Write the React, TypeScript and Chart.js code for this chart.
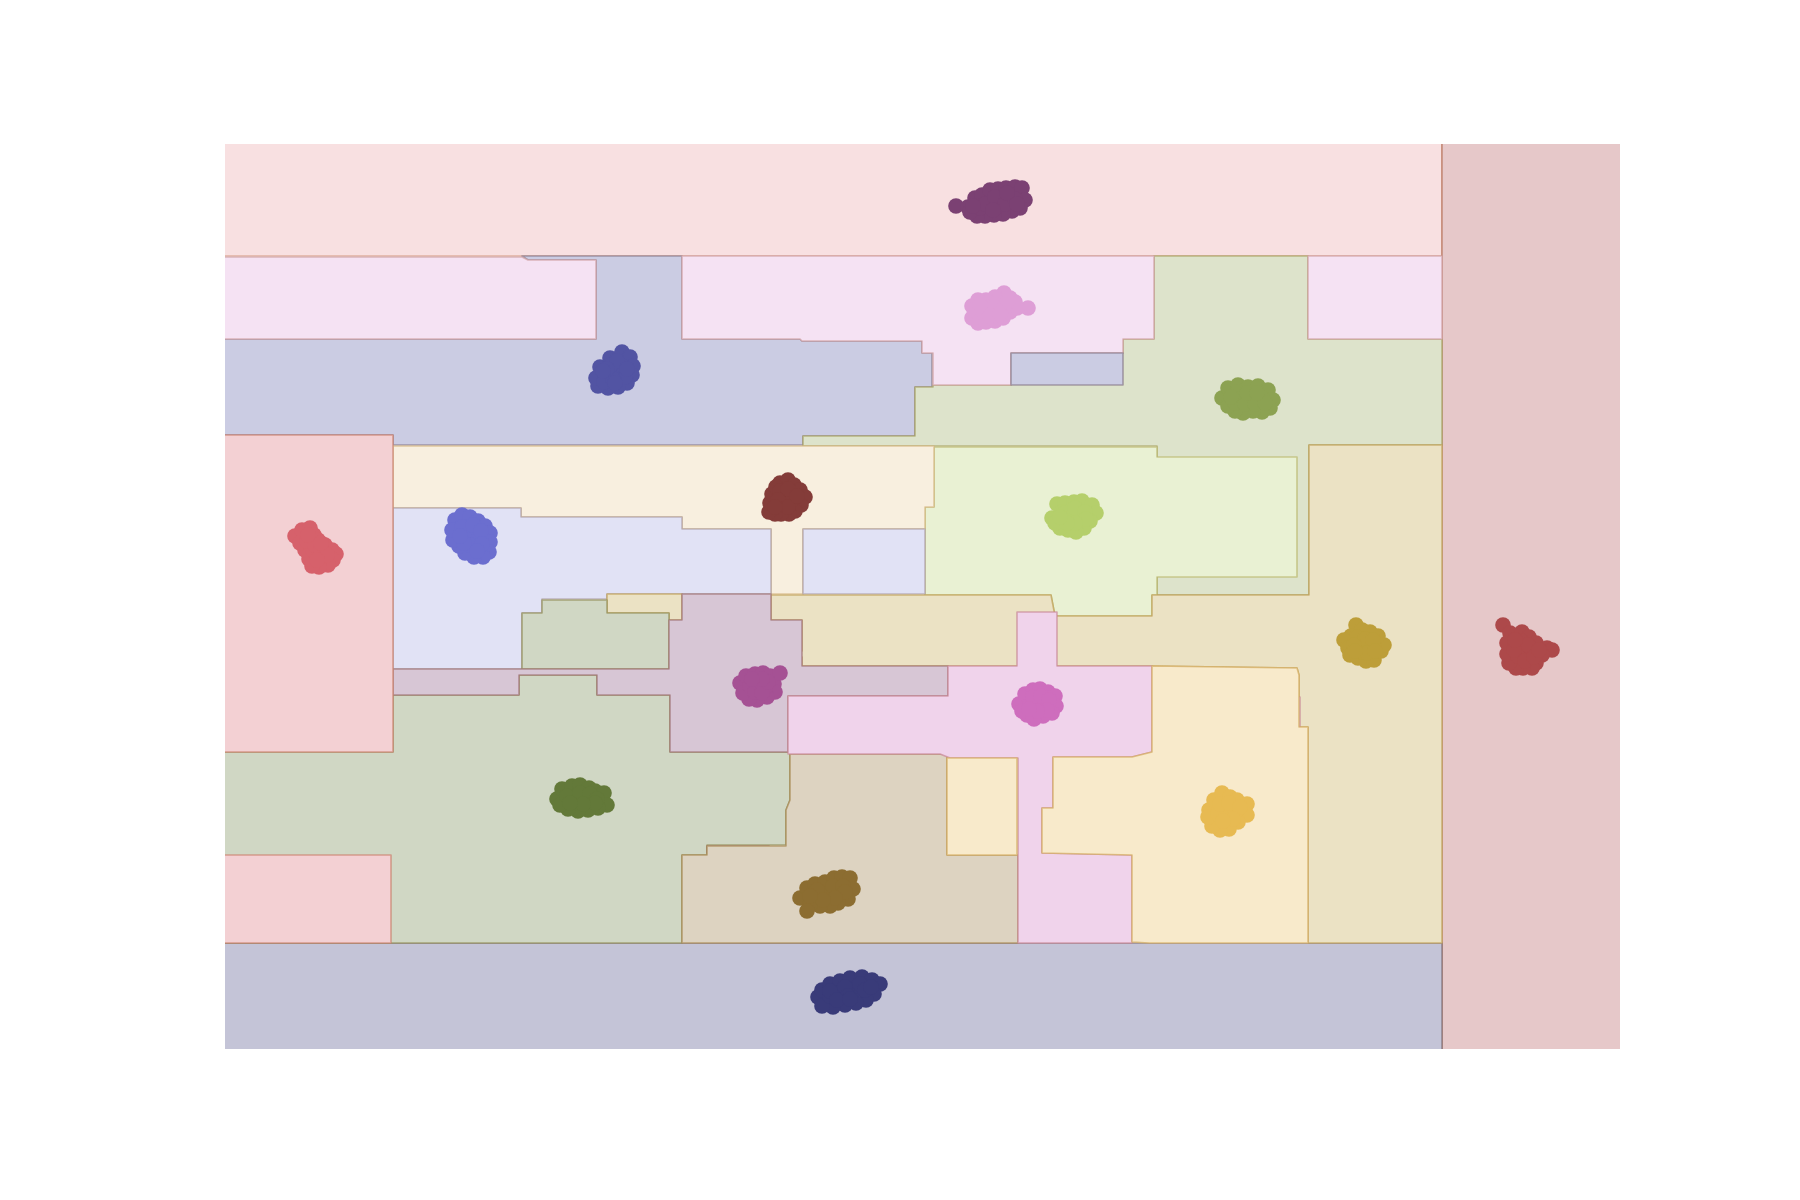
import React, { useEffect, useRef } from "react";
import { Chart, registerables } from "chart.js";

Chart.register(...registerables);

// ---- axis ranges (data units) ----
const X_RANGE: [number, number] = [0, 139.5];
const Y_RANGE: [number, number] = [0, 90.5];

// ---- tab20b colours ----
const C_NAVY = "#393b79";
const C_BLUE = "#5254a3";
const C_PERI = "#6b6ecf";
const C_PERI_L = "#9c9ede";
const C_DOLIVE = "#637939";
const C_OLIVE = "#8ca252";
const C_LGREEN = "#b5cf6b";
const C_BROWN = "#8c6d31";
const C_GOLD = "#bd9e39";
const C_YELLOW = "#e7ba52";
const C_CREAM = "#e7cb94";
const C_DRED = "#843c39";
const C_RED = "#ad494a";
const C_SALMON = "#d6616b";
const C_ROSE = "#e7969c";
const C_PURPLE = "#7b4173";
const C_MAGENTA = "#a55194";
const C_ORCHID = "#ce6dbd";
const C_PINK = "#de9ed6";
const C_CONTOUR = "#c0a070";

// ---- decision regions (polygons in data units) ----
const regionRedStrip = [[121.7, 90.5], [139.5, 90.5], [139.5, 0], [121.7, 0]];
const regionTopBand = [[0, 90.5], [121.7, 90.5], [121.7, 79.3], [0, 79.3]];
const regionNavy = [[0, 10.6], [121.7, 10.6], [121.7, 0], [0, 0]];
const regionLavender = [[0, 71.0], [37.1, 71.0], [37.1, 78.9], [30.3, 78.9], [29.7, 79.3], [45.7, 79.3], [45.7, 71.0], [57.5, 71.0], [57.7, 70.8], [69.7, 70.8], [69.7, 69.6], [70.7, 69.6], [70.7, 66.2], [69.0, 66.2], [69.0, 61.3], [57.8, 61.3], [57.8, 60.4], [16.8, 60.4], [16.8, 61.4], [0, 61.4]];
const regionGreen = [[92.9, 79.3], [108.3, 79.3], [108.3, 71.0], [121.7, 71.0], [121.7, 60.4], [108.4, 60.4], [108.4, 45.4], [93.2, 45.4], [93.2, 60.3], [57.8, 60.3], [57.8, 61.3], [69.0, 61.3], [69.0, 66.2], [70.8, 66.2], [70.8, 66.4], [78.6, 66.4], [78.6, 69.6], [89.8, 69.6], [89.8, 71.0], [92.9, 71.0]];
const regionPinkLeft = [[0, 79.2], [29.7, 79.2], [30.3, 78.9], [37.1, 78.9], [37.1, 71.0], [0, 71.0]];
const regionPinkMid = [[45.7, 79.3], [92.9, 79.3], [92.9, 71.0], [89.8, 71.0], [89.8, 69.6], [78.6, 69.6], [78.6, 66.4], [70.8, 66.4], [70.8, 69.6], [69.7, 69.6], [69.7, 70.8], [57.7, 70.8], [57.5, 71.0], [45.7, 71.0]];
const regionPinkRight = [[108.3, 79.3], [121.7, 79.3], [121.7, 71.0], [108.3, 71.0]];
const regionLavenderBox = [[78.6, 69.6], [89.8, 69.6], [89.8, 66.4], [78.6, 66.4]];
const regionLightGreen = [[70.9, 60.2], [93.2, 60.2], [93.2, 59.2], [107.2, 59.2], [107.2, 47.2], [93.2, 47.2], [93.2, 45.4], [92.7, 45.4], [92.7, 43.3], [83.0, 43.3], [82.6, 45.4], [70.0, 45.4], [70.0, 54.2], [70.9, 54.2]];
const regionCream = [[16.8, 60.3], [70.9, 60.3], [70.9, 54.2], [70.0, 54.2], [70.0, 52.0], [57.8, 52.0], [57.8, 45.5], [54.6, 45.5], [54.6, 52.0], [45.7, 52.0], [45.7, 53.2], [29.6, 53.2], [29.6, 54.1], [16.8, 54.1]];
const regionPeriLeft = [[16.8, 54.1], [29.6, 54.1], [29.6, 53.2], [45.7, 53.2], [45.7, 52.0], [54.6, 52.0], [54.6, 45.5], [38.2, 45.5], [38.2, 45.0], [31.7, 45.0], [31.7, 43.6], [29.7, 43.6], [29.7, 38.0], [16.8, 38.0]];
const regionPeriRight = [[57.8, 52.0], [70.0, 52.0], [70.0, 45.5], [57.8, 45.5]];
const regionGold = [[54.6, 45.4], [82.6, 45.4], [83.0, 43.3], [92.7, 43.3], [92.7, 45.4], [108.4, 45.4], [108.4, 60.4], [121.7, 60.4], [121.7, 10.6], [108.3, 10.6], [108.3, 32.2], [107.4, 32.2], [107.4, 37.4], [107.2, 38.1], [92.7, 38.3], [57.7, 38.3], [57.7, 39.2], [56.7, 39.2], [56.7, 39.8], [57.7, 39.8], [57.7, 42.9], [54.6, 42.9]];
const regionGoldStrip = [[38.2, 45.5], [45.7, 45.5], [45.7, 42.9], [44.4, 42.9], [44.4, 43.6], [38.2, 43.6]];
const regionSageBig = [[0, 29.7], [16.8, 29.7], [16.8, 35.4], [29.4, 35.4], [29.4, 37.4], [37.2, 37.4], [37.2, 35.4], [44.5, 35.4], [44.5, 29.7], [56.5, 29.7], [56.5, 24.9], [56.1, 23.9], [56.1, 20.4], [48.2, 20.4], [48.2, 19.4], [45.7, 19.4], [45.7, 10.6], [0, 10.6]];
const regionSageMid = [[29.7, 43.6], [31.7, 43.6], [31.7, 44.9], [38.2, 44.9], [38.2, 43.6], [44.4, 43.6], [44.4, 38.0], [29.7, 38.0]];
const regionMauve = [[45.7, 45.5], [54.6, 45.5], [54.6, 42.9], [57.7, 42.9], [57.7, 38.3], [72.3, 38.3], [72.3, 35.3], [56.3, 35.3], [56.3, 29.7], [44.5, 29.7], [44.5, 35.4], [37.2, 35.4], [37.2, 37.4], [29.4, 37.4], [29.4, 35.4], [16.8, 35.4], [16.8, 38.0], [44.4, 38.0], [44.4, 42.9], [45.7, 42.9]];
const regionMauveBox = [[48.2, 20.3], [54.4, 20.3], [54.4, 19.6], [48.2, 19.6]];
const regionTan = [[45.7, 19.4], [48.2, 19.4], [48.2, 20.3], [56.1, 20.3], [56.1, 23.9], [56.5, 24.9], [56.5, 29.5], [72.2, 29.5], [72.2, 19.4], [79.3, 19.4], [79.3, 10.6], [45.7, 10.6]];
const regionOrchid = [[79.2, 43.7], [83.2, 43.7], [83.2, 38.3], [92.7, 38.3], [92.7, 29.7], [90.7, 29.2], [82.8, 29.2], [82.8, 24.1], [81.7, 24.1], [81.7, 19.6], [90.7, 19.4], [90.7, 10.6], [79.3, 10.6], [79.3, 29.1], [72.5, 29.1], [71.5, 29.5], [56.3, 29.5], [56.3, 35.3], [72.3, 35.3], [72.3, 38.3], [79.2, 38.3]];
const regionOrchidSliver = [[107.1, 35.2], [107.5, 35.2], [107.5, 32.2], [107.1, 32.2]];
const regionYellow = [[92.7, 38.3], [107.2, 38.1], [107.4, 37.4], [107.4, 32.2], [108.3, 32.2], [108.3, 10.6], [92.4, 10.6], [90.7, 10.7], [90.7, 19.4], [81.7, 19.6], [81.7, 24.1], [82.8, 24.1], [82.8, 29.2], [90.7, 29.2], [92.7, 29.7]];
const regionYellowBox = [[72.2, 29.1], [79.2, 29.1], [79.2, 19.4], [72.2, 19.4]];
const regionSalmonBig = [[0, 61.4], [16.8, 61.4], [16.8, 29.7], [0, 29.7]];
const regionSalmonSmall = [[0, 19.4], [16.6, 19.4], [16.6, 10.6], [0, 10.6]];

// drawing order: later regions are painted over earlier ones
const REGIONS: { poly: number[][]; color: string }[] = [
  { poly: regionTopBand, color: C_ROSE },
  { poly: regionRedStrip, color: C_RED },
  { poly: regionNavy, color: C_NAVY },
  { poly: regionLavender, color: C_BLUE },
  { poly: regionGreen, color: C_OLIVE },
  { poly: regionPinkLeft, color: C_PINK },
  { poly: regionPinkMid, color: C_PINK },
  { poly: regionPinkRight, color: C_PINK },
  { poly: regionLavenderBox, color: C_BLUE },
  { poly: regionLightGreen, color: C_LGREEN },
  { poly: regionCream, color: C_CREAM },
  { poly: regionPeriLeft, color: C_PERI_L },
  { poly: regionPeriRight, color: C_PERI_L },
  { poly: regionGold, color: C_GOLD },
  { poly: regionGoldStrip, color: C_GOLD },
  { poly: regionSageBig, color: C_DOLIVE },
  { poly: regionSageMid, color: C_DOLIVE },
  { poly: regionMauve, color: C_PURPLE },
  { poly: regionMauveBox, color: C_PURPLE },
  { poly: regionTan, color: C_BROWN },
  { poly: regionOrchid, color: C_ORCHID },
  { poly: regionOrchidSliver, color: C_ORCHID },
  { poly: regionYellow, color: C_YELLOW },
  { poly: regionYellowBox, color: C_YELLOW },
  { poly: regionSalmonBig, color: C_SALMON },
  { poly: regionSalmonSmall, color: C_SALMON },
];

// ---- sample clusters (data units) ----
const ptsPurple = [[73.1, 84.3], [74.3, 84.2], [75.0, 85.1], [75.7, 85.4], [76.5, 85.9], [77.3, 86.0], [78.1, 86.1], [79.0, 86.2], [79.7, 86.1], [80.0, 84.9], [79.5, 84.1], [78.7, 83.8], [77.8, 83.5], [76.9, 83.4], [76.0, 83.3], [75.2, 83.3], [74.5, 83.7], [76.3, 84.6], [77.5, 84.9], [78.5, 85.1], [77.0, 84.1], [75.5, 84.1], [76.0, 84.5], [77.0, 85.2], [78.0, 84.5], [79.0, 85.0], [78.2, 85.6], [76.8, 83.9], [74.8, 84.3], [79.2, 84.5]];
const ptsPink = [[74.7, 74.3], [74.7, 73.1], [75.3, 72.6], [76.1, 72.7], [77.0, 72.8], [77.8, 73.1], [78.5, 73.7], [79.0, 74.7], [78.5, 75.1], [77.9, 75.6], [77.0, 75.2], [76.1, 74.9], [75.3, 74.9], [80.3, 74.1], [79.2, 74.1], [76.5, 73.9], [77.5, 74.1], [75.8, 73.7], [76.0, 74.2], [77.0, 74.4], [78.0, 74.3], [76.5, 73.3], [77.5, 73.5], [78.3, 74.8], [75.5, 74.4]];
const ptsBlue = [[37.5, 68.2], [38.5, 69.1], [39.5, 69.2], [39.7, 69.7], [40.5, 69.2], [40.8, 68.3], [40.7, 67.4], [40.2, 66.6], [39.3, 66.2], [38.3, 66.1], [37.3, 66.3], [37.1, 67.1], [38.0, 67.4], [39.0, 67.7], [39.7, 68.3], [38.6, 68.4], [37.9, 66.7], [40.0, 67.2], [38.8, 67.0], [39.2, 68.8], [38.2, 68.0], [40.2, 68.0], [39.0, 66.6], [37.8, 67.8]];
const ptsOlive = [[99.7, 65.1], [100.3, 66.1], [101.3, 66.4], [102.3, 66.2], [103.3, 66.3], [104.3, 65.9], [104.8, 64.9], [104.5, 64.1], [103.7, 63.7], [102.8, 63.8], [101.8, 63.6], [101.0, 63.8], [100.3, 64.3], [101.5, 65.1], [102.7, 65.1], [103.7, 65.1], [101.0, 64.6], [102.0, 64.5], [103.0, 64.5], [104.0, 64.6], [101.2, 65.7], [102.2, 65.6], [103.2, 65.6], [100.6, 65.2]];
const ptsDarkRed = [[55.5, 56.6], [56.3, 56.9], [56.9, 56.4], [57.5, 55.9], [58.0, 55.2], [57.6, 54.4], [57.0, 53.8], [56.4, 53.5], [55.6, 53.5], [55.0, 53.5], [54.4, 53.7], [54.5, 54.6], [54.7, 55.5], [55.1, 56.2], [56.0, 55.2], [56.7, 54.9], [55.7, 54.4], [55.5, 55.8], [56.3, 56.0], [55.3, 54.9], [56.3, 54.2], [57.2, 55.3], [55.0, 54.2]];
const ptsSalmon = [[7.0, 51.3], [7.7, 51.9], [8.5, 52.1], [8.9, 51.4], [9.3, 50.9], [10.0, 50.4], [10.7, 49.9], [11.1, 49.5], [10.8, 48.9], [10.3, 48.4], [9.4, 48.2], [8.7, 48.3], [8.4, 49.0], [8.0, 49.9], [7.5, 50.6], [8.8, 49.9], [9.7, 49.3], [8.2, 50.8], [9.0, 50.4], [9.6, 49.9], [10.2, 49.4], [9.2, 48.9], [8.3, 51.4], [9.6, 50.6]];
const ptsPeri = [[23.0, 52.9], [23.7, 53.4], [24.5, 53.2], [25.3, 52.8], [26.0, 52.3], [26.5, 51.6], [26.5, 50.7], [26.4, 49.7], [25.8, 49.2], [24.9, 49.2], [24.0, 49.6], [23.4, 50.3], [22.8, 50.9], [22.7, 51.9], [24.3, 51.4], [25.3, 50.9], [24.5, 50.4], [23.7, 52.2], [24.8, 52.4], [25.6, 51.8], [25.7, 50.5], [25.2, 49.8], [23.9, 50.6], [23.5, 51.3]];
const ptsLightGreen = [[82.7, 53.1], [83.2, 54.5], [84.0, 54.6], [84.9, 54.7], [85.7, 54.8], [86.7, 54.4], [87.1, 53.6], [86.5, 52.8], [85.9, 52.1], [85.1, 51.7], [84.3, 51.9], [83.5, 52.1], [83.0, 52.6], [84.5, 53.4], [85.5, 53.5], [83.7, 53.7], [84.0, 53.6], [85.0, 54.1], [86.0, 53.7], [86.1, 53.0], [85.0, 52.6], [84.2, 52.6], [83.5, 53.2]];
const ptsGold = [[113.1, 42.4], [112.6, 41.3], [111.9, 40.9], [112.3, 40.1], [112.5, 39.4], [113.3, 39.1], [114.1, 38.8], [114.9, 38.9], [115.6, 39.8], [115.9, 40.4], [115.3, 41.3], [114.5, 41.7], [113.7, 41.9], [113.5, 40.4], [114.5, 40.1], [113.7, 39.7], [113.2, 41.2], [114.0, 41.0], [114.8, 40.9], [112.9, 40.4], [114.2, 39.6], [115.0, 39.8], [113.0, 39.8]];
const ptsRed = [[127.8, 42.4], [128.5, 41.6], [129.7, 41.7], [130.4, 41.2], [131.1, 40.6], [132.2, 40.1], [132.7, 39.9], [131.7, 39.4], [131.1, 38.6], [130.7, 38.1], [129.8, 38.1], [129.1, 38.1], [128.4, 38.6], [128.2, 39.5], [128.2, 40.6], [129.5, 40.1], [130.5, 39.7], [129.3, 39.3], [129.6, 40.8], [130.3, 40.4], [128.9, 39.9], [129.0, 40.9], [130.0, 38.8], [130.9, 39.2], [131.4, 39.9]];
const ptsMagenta = [[51.5, 36.6], [52.1, 37.3], [53.0, 37.5], [53.8, 37.6], [54.5, 37.3], [54.9, 36.5], [55.0, 35.7], [54.2, 35.2], [53.2, 34.9], [52.4, 35.0], [51.8, 35.6], [55.5, 37.6], [53.3, 36.3], [54.0, 36.1], [52.5, 36.3], [53.0, 35.7], [53.7, 35.6], [54.3, 36.7], [53.7, 37.0], [52.7, 37.0]];
const ptsOrchid = [[79.4, 34.5], [80.0, 35.5], [80.8, 35.9], [81.5, 36.0], [82.3, 35.7], [83.0, 35.3], [83.1, 34.3], [82.7, 33.6], [81.8, 33.3], [80.9, 33.0], [80.2, 33.4], [79.7, 33.8], [81.3, 34.5], [82.0, 34.6], [80.5, 34.4], [80.8, 35.2], [81.6, 35.3], [82.4, 34.9], [82.2, 33.9], [81.2, 33.8], [80.4, 34.0]];
const ptsDarkOlive = [[33.2, 25.0], [33.7, 26.0], [34.7, 26.3], [35.5, 26.4], [36.4, 26.1], [37.0, 25.8], [37.9, 25.6], [38.2, 24.4], [37.3, 24.1], [36.3, 23.9], [35.3, 23.8], [34.3, 24.0], [33.5, 24.4], [35.1, 25.2], [36.2, 25.0], [34.2, 25.3], [35.5, 25.6], [36.5, 25.5], [37.2, 25.0], [37.0, 24.6], [35.8, 24.5], [34.5, 24.6]];
const ptsYellow = [[98.4, 23.9], [98.9, 24.9], [99.7, 25.6], [100.5, 25.2], [101.2, 24.9], [102.2, 24.5], [102.2, 23.4], [101.3, 22.7], [100.4, 22.0], [99.5, 21.9], [98.7, 22.3], [98.3, 23.2], [100.0, 23.9], [101.0, 23.7], [99.3, 23.5], [99.5, 24.5], [100.4, 24.6], [101.5, 24.2], [100.8, 23.0], [99.8, 22.8]];
const ptsBrown = [[57.5, 15.1], [58.2, 16.1], [59.0, 16.5], [60.0, 16.7], [60.9, 17.1], [61.7, 17.2], [62.5, 17.1], [62.8, 16.0], [62.3, 15.0], [61.3, 14.6], [60.5, 14.3], [59.5, 14.3], [58.5, 14.4], [58.2, 13.8], [60.0, 15.6], [61.3, 15.9], [59.0, 15.4], [59.2, 15.9], [60.8, 16.3], [61.8, 16.3], [62.0, 15.7], [61.0, 15.1], [59.8, 14.9], [58.5, 15.3]];
const ptsNavy = [[59.3, 5.2], [59.7, 5.9], [60.5, 6.5], [61.5, 6.8], [62.5, 7.1], [63.7, 7.2], [64.7, 6.9], [65.5, 6.5], [64.9, 5.5], [64.1, 4.9], [63.1, 4.6], [62.0, 4.4], [60.8, 4.2], [59.7, 4.3], [61.5, 5.6], [63.0, 5.9], [60.5, 5.3], [60.5, 5.8], [62.0, 6.2], [62.3, 5.3], [63.5, 6.5], [64.0, 5.9], [64.6, 6.2], [61.2, 4.9], [62.5, 5.0]];

const CLUSTERS: { pts: number[][]; color: string }[] = [
  { pts: ptsNavy, color: C_NAVY },
  { pts: ptsBlue, color: C_BLUE },
  { pts: ptsPeri, color: C_PERI },
  { pts: ptsDarkOlive, color: C_DOLIVE },
  { pts: ptsOlive, color: C_OLIVE },
  { pts: ptsLightGreen, color: C_LGREEN },
  { pts: ptsBrown, color: C_BROWN },
  { pts: ptsGold, color: C_GOLD },
  { pts: ptsYellow, color: C_YELLOW },
  { pts: ptsDarkRed, color: C_DRED },
  { pts: ptsRed, color: C_RED },
  { pts: ptsSalmon, color: C_SALMON },
  { pts: ptsPurple, color: C_PURPLE },
  { pts: ptsMagenta, color: C_MAGENTA },
  { pts: ptsOrchid, color: C_ORCHID },
  { pts: ptsPink, color: C_PINK },
];

function hexRgb(h: string): [number, number, number] {
  const n = parseInt(h.slice(1), 16);
  return [(n >> 16) & 255, (n >> 8) & 255, n & 255];
}
function tint(h: string, a: number) {
  const [r, g, b] = hexRgb(h);
  const m = (c: number) => Math.round(255 * (1 - a) + c * a);
  return `rgb(${m(r)},${m(g)},${m(b)})`;
}
function contourStroke(h: string, a: number) {
  const [r, g, b] = hexRgb(h);
  const [cr, cg, cb] = hexRgb(C_CONTOUR);
  const m = (c: number, d: number) => Math.round((c + d) / 2);
  return `rgba(${m(r, cr)},${m(g, cg)},${m(b, cb)},${a})`;
}

const regionPlugin = {
  id: "decisionRegions",
  beforeDatasetsDraw(chart: any) {
    const { ctx, chartArea, scales } = chart;
    const xs = scales.x;
    const ys = scales.y;
    ctx.save();
    ctx.beginPath();
    ctx.rect(chartArea.left, chartArea.top, chartArea.right - chartArea.left, chartArea.bottom - chartArea.top);
    ctx.clip();
    const px = (v: number) => {
      let p = xs.getPixelForValue(v);
      if (v <= X_RANGE[0]) p -= 4;
      if (v >= X_RANGE[1]) p += 4;
      return p;
    };
    const py = (v: number) => {
      let p = ys.getPixelForValue(v);
      if (v <= Y_RANGE[0]) p += 4;
      if (v >= Y_RANGE[1]) p -= 4;
      return p;
    };
    for (const r of REGIONS) {
      ctx.beginPath();
      r.poly.forEach(([x, y], i) => {
        if (i === 0) ctx.moveTo(px(x), py(y));
        else ctx.lineTo(px(x), py(y));
      });
      ctx.closePath();
      ctx.fillStyle = tint(r.color, 0.3);
      ctx.fill();
      ctx.strokeStyle = contourStroke(r.color, 0.7);
      ctx.lineWidth = 1.6;
      ctx.lineJoin = "round";
      ctx.stroke();
    }
    ctx.restore();
  },
};

export default function App() {
  const ref = useRef<HTMLCanvasElement | null>(null);
  useEffect(() => {
    document.body.style.margin = "0";
    if (!ref.current) return;
    const chart = new Chart(ref.current, {
      type: "scatter",
      data: {
        datasets: CLUSTERS.map((c) => ({
          data: c.pts.map(([x, y]) => ({ x, y })),
          backgroundColor: c.color,
          borderColor: c.color,
          borderWidth: 0,
          pointRadius: 7.8,
          pointHoverRadius: 7.8,
        })),
      },
      options: {
        responsive: false,
        animation: false,
        layout: { padding: { left: 225, right: 180, top: 144, bottom: 151 } },
        plugins: { legend: { display: false }, tooltip: { enabled: false } },
        scales: {
          x: { type: "linear", min: X_RANGE[0], max: X_RANGE[1], display: false },
          y: { type: "linear", min: Y_RANGE[0], max: Y_RANGE[1], display: false },
        },
      },
      plugins: [regionPlugin],
    });
    return () => chart.destroy();
  }, []);
  return (
    <div style={{ position: "absolute", left: 0, top: 0, width: 1800, height: 1200, background: "#fff" }}>
      <canvas ref={ref} width={1800} height={1200} style={{ width: 1800, height: 1200 }} />
    </div>
  );
}
